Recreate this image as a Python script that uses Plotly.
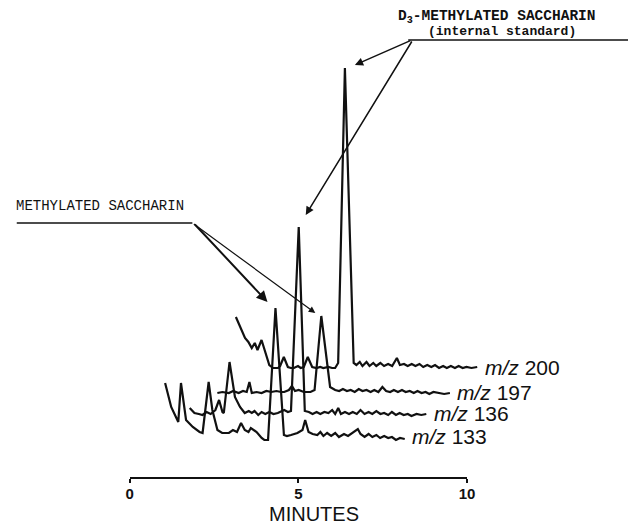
import plotly.graph_objects as go

W, H = 636, 527

# ---------------- data ----------------
# retention time (min) and signal height above each trace's baseline (arbitrary units)
T133 = [0.98, 1.16, 1.37, 1.45, 1.60, 1.80, 2.00, 2.09, 2.27, 2.38, 2.53, 2.67, 2.87, 2.99,
        3.11, 3.23, 3.34, 3.45, 3.52, 3.60, 3.69, 3.84, 3.92, 4.03, 4.25, 4.50, 4.59, 4.71,
        4.90, 5.05, 5.13, 5.23, 5.35, 5.49, 5.58, 5.67, 5.78, 5.90, 6.02, 6.13, 6.28, 6.40,
        6.51, 6.69, 6.77, 6.89, 7.01, 7.12, 7.24, 7.35, 7.47, 7.59, 7.70, 7.82, 7.94, 8.08]
I133 = [53, 29, 14, 53, 16, 9, 4, 3, 54, 26, 6, 3, 3, 6,
        4, 13, 6, 4, 8, 6, 4, -2, -4, -4, 128, 1, 0, 1,
        3, 6, 16, 4, 2, 1, 4, 0, 3, 0, 3, -1, 2, 0,
        3, 7, 2, -1, 2, -1, 1, -2, 0, -2, -1, -4, -2, -3]

T136 = [1.02, 1.16, 1.29, 1.40, 1.52, 1.64, 1.78, 1.89, 1.99, 2.03, 2.20, 2.36, 2.51, 2.65,
        2.77, 2.86, 2.94, 3.05, 3.15, 3.26, 3.38, 3.50, 3.63, 3.73, 3.82, 3.93, 4.02, 4.25,
        4.43, 4.55, 4.66, 4.78, 4.89, 5.01, 5.13, 5.24, 5.33, 5.42, 5.50, 5.62, 5.74, 5.85,
        5.97, 6.08, 6.20, 6.32, 6.43, 6.55, 6.67, 6.78, 6.90, 7.01, 7.13, 7.24, 7.36, 7.48,
        7.59, 7.74, 7.88, 8.03]
I136 = [5, 0, -1, -2, 1, -1, 3, 13, 1, 0, 51, 16, 6, 0,
        2, 0, 2, -2, 1, -1, 1, -1, 0, 2, 3, 1, 2, 186,
        2, 1, -1, 1, -1, 1, 0, 3, -1, 5, -1, 1, -1, 1,
        -1, 3, -1, 1, -1, 2, -1, 0, -2, 1, -2, 0, -2, -1,
        -3, -1, -2, -1]

T197 = [1.15, 1.30, 1.49, 1.62, 1.78, 1.91, 2.02, 2.10, 2.17, 2.31, 2.46, 2.60, 2.75, 2.90,
        3.04, 3.13, 3.27, 3.36, 3.45, 3.56, 3.71, 3.91, 4.03, 4.23, 4.49, 4.64, 4.76, 4.87,
        4.99, 5.10, 5.22, 5.34, 5.45, 5.57, 5.69, 5.80, 5.92, 6.04, 6.15, 6.27, 6.38, 6.50,
        6.62, 6.73, 6.85, 6.97, 7.08, 7.20, 7.32, 7.43, 7.55, 7.69, 7.87, 8.04]
I197 = [-1, 0, -1, 1, -1, 1, 0, 10, -1, 0, -1, 1, 0, 1,
        0, 0, 2, 6, 1, 2, 0, 0, 2, 76, 5, 2, 1, 3,
        1, 2, 0, 3, 1, 2, 0, 2, 0, 5, 1, 0, 2, 0,
        2, 0, 1, -1, 1, -1, 0, -2, 0, -1, -2, -1]

T200 = [1.01, 1.19, 1.28, 1.38, 1.48, 1.57, 1.65, 1.77, 1.92, 2.00, 2.11, 2.26, 2.32, 2.43,
        2.55, 2.64, 2.73, 2.85, 2.93, 3.02, 3.14, 3.27, 3.40, 3.51, 3.60, 3.75, 3.86, 3.95,
        4.04, 4.24, 4.50, 4.58, 4.68, 4.76, 4.88, 4.97, 5.08, 5.17, 5.29, 5.40, 5.52, 5.64,
        5.78, 5.87, 5.99, 6.10, 6.22, 6.33, 6.45, 6.56, 6.68, 6.80, 6.91, 7.03, 7.15, 7.26,
        7.38, 7.50, 7.61, 7.73, 7.84, 7.99, 8.16]
I200 = [50, 37, 29, 25, 19, 24, 17, 27, 10, 2, -1, -1, 1, 10,
        0, -1, -1, 1, -1, 0, 10, 0, -1, 0, -1, 0, -1, -1,
        4, 299, 4, 2, 5, 1, 5, 1, 4, 1, 4, 1, 3, 1,
        9, 2, 3, 1, 3, 1, 3, 0, 2, 0, 2, -1, 1, -1,
        1, -1, 1, -1, 0, -1, 0]

MZ = ["133", "136", "197", "200"]
TICKS = [0, 5, 10]
AXIS_TITLE = "MINUTES"
LABEL_D3 = "D<sub>3</sub>-METHYLATED SACCHARIN"
LABEL_D3_SUB = "(internal standard)"
LABEL_ME = "METHYLATED SACCHARIN"

# ---------------- layout of the stacked (perspective) traces ----------------
TIMES = [T133, T136, T197, T200]
SIGNALS = [I133, I136, I197, I200]
STAGGER_X = 0.689                # min shift per trace (perspective)
BASELINES = [91, 114, 135, 160]  # vertical offset of each trace
INK = "#111111"

X0_PX = 130.5                    # pixel where the trace time frame starts
X_RANGE = [-X0_PX / 34.4, (W - X0_PX) / 34.4]
Y_RANGE = [0, H]

fig = go.Figure()

for k, (t, s) in enumerate(zip(TIMES, SIGNALS)):
    fig.add_trace(go.Scatter(
        x=[v + k * STAGGER_X for v in t],
        y=[BASELINES[k] + v for v in s],
        mode="lines", line=dict(color=INK, width=2.2),
        hoverinfo="skip", showlegend=False))

# invisible carrier for the time axis
fig.add_trace(go.Scatter(x=[TICKS[0], TICKS[-1]], y=[0, 0], xaxis="x2", yaxis="y",
                         mode="lines", line=dict(width=0), hoverinfo="skip",
                         showlegend=False))

annotations = []
# m/z labels at the end of each trace
for k, (t, s) in enumerate(zip(TIMES, SIGNALS)):
    annotations.append(dict(
        x=t[-1] + k * STAGGER_X + 0.16, y=BASELINES[k], xref="x", yref="y",
        text="<i>m/z</i> " + MZ[k], showarrow=False, xanchor="left", yanchor="middle",
        font=dict(family="Liberation Sans, Arial", size=21, color=INK)))


def apex(k):
    s = SIGNALS[k]
    i = s.index(max(s))
    return TIMES[k][i] + k * STAGGER_X, BASELINES[k] + s[i]


def px(x):
    return x / W


def py(y):
    return 1 - y / H


# arrows (head near peak apex, tail at the label leader line)
arrow_specs = [
    (10, 3, 57, -25, 1.5),     # D3 on m/z 200
    (7, 12, 107, -175, 1.5),   # D3 on m/z 136
    (-8, 6, -74, -79, 2.0),    # methylated on m/z 133
    (-6, 3, -123, -90, 1.2),   # methylated on m/z 197
]
for k, (xs, ys, ax, ay, w) in zip([3, 1, 0, 2], arrow_specs):
    ax_, ay_ = apex(k)
    annotations.append(dict(
        x=ax_, y=ay_, xref="x", yref="y", xshift=xs, yshift=ys, text="",
        showarrow=True, ax=ax, ay=ay, axref="pixel", ayref="pixel",
        arrowhead=2, arrowsize=1.1, arrowwidth=w, arrowcolor=INK))

annotations += [
    dict(x=px(502), y=py(17), xref="paper", yref="paper", text="<b>" + LABEL_D3 + "</b>",
         showarrow=False, xanchor="center", yanchor="middle",
         font=dict(family="Liberation Mono, Courier New", size=14.5, color=INK)),
    dict(x=px(508), y=py(31), xref="paper", yref="paper", text="<b>" + LABEL_D3_SUB + "</b>",
         showarrow=False, xanchor="center", yanchor="middle",
         font=dict(family="Liberation Mono, Courier New", size=13, color=INK)),
    dict(x=px(98), y=py(206), xref="paper", yref="paper", text=LABEL_ME,
         showarrow=False, xanchor="center", yanchor="middle",
         font=dict(family="Liberation Mono, Courier New", size=14, color=INK)),
    dict(x=px(316), y=py(526), xref="paper", yref="paper", text=AXIS_TITLE,
         showarrow=False, xanchor="center", yanchor="bottom", borderpad=0,
         font=dict(family="Liberation Sans, Arial", size=20, color=INK)),
]

shapes = [
    dict(type="line", xref="paper", yref="paper", x0=px(412), x1=px(636),
         y0=py(40), y1=py(40), line=dict(color=INK, width=1.5)),
    dict(type="line", xref="paper", yref="paper", x0=px(13), x1=px(192),
         y0=py(223), y1=py(223), line=dict(color=INK, width=1.5)),
]

fig.update_layout(
    width=W, height=H, margin=dict(l=0, r=0, t=0, b=0),
    paper_bgcolor="white", plot_bgcolor="rgba(0,0,0,0)",
    xaxis=dict(range=X_RANGE, visible=False, domain=[0, 1]),
    yaxis=dict(range=Y_RANGE, visible=False, domain=[0, 1]),
    xaxis2=dict(domain=[128 / W, 472 / W], range=[TICKS[0], TICKS[-1]],
                anchor="free", position=(H - 478) / H,
                showline=True, linecolor=INK, linewidth=1.5,
                ticks="outside", ticklen=4, tickwidth=1.5, tickcolor=INK,
                ticklabelstandoff=-2,
                tickvals=TICKS, ticktext=[str(v) for v in TICKS],
                tickfont=dict(family="Liberation Sans, Arial", size=15, color=INK,
                              weight="bold"),
                showgrid=False, zeroline=False),
    annotations=annotations, shapes=shapes,
)

fig.write_html("out.html")
